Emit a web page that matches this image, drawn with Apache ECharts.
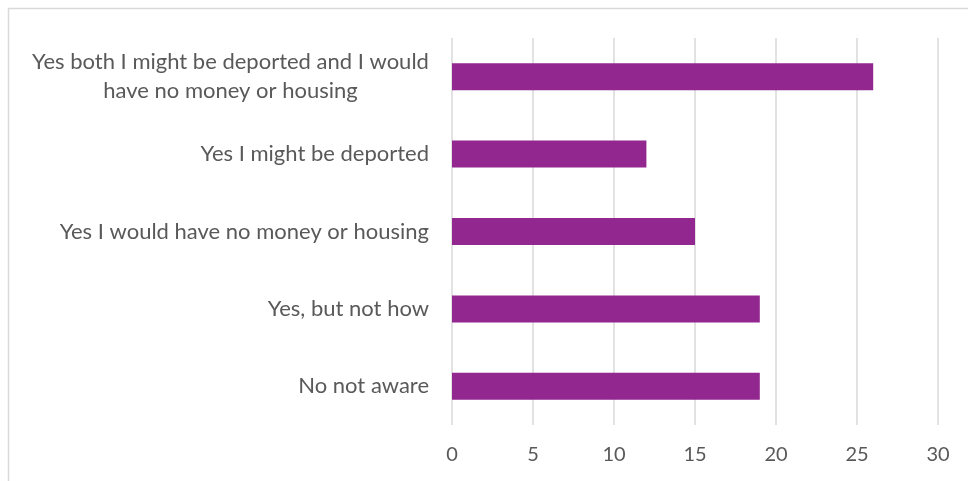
<!DOCTYPE html>
<html>
<head>
<meta charset="utf-8">
<script src="https://cdn.jsdelivr.net/npm/echarts@6/dist/echarts.min.js"></script>
<style>
  html, body { margin: 0; padding: 0; background: #fff; }
  #chart { width: 968px; height: 481px; }
</style>
</head>
<body>
<div id="chart"></div>
<script>
// Survey answers, listed top to bottom
const categories = [
  'Yes both I might be deported and I would\nhave no money or housing',
  'Yes I might be deported',
  'Yes I would have no money or housing',
  'Yes, but not how',
  'No not aware'
];
const counts = [26, 12, 15, 19, 19];
const xTicks = [0, 5, 10, 15, 20, 25, 30];

const textColor = '#595959';
const fontFamily = 'Lato, "Open Sans", sans-serif';
const labelSize = 22;
const tickSize = 20;

// Width of the widest label line, so wrapped labels can be centred as a block
const ctx = document.createElement('canvas').getContext('2d');
ctx.font = labelSize + 'px ' + fontFamily;
let blockWidth = 0;
categories.forEach(function (c) {
  c.split('\n').forEach(function (line) {
    blockWidth = Math.max(blockWidth, Math.ceil(ctx.measureText(line).width));
  });
});

const chart = echarts.init(document.getElementById('chart'), null, { renderer: 'canvas' });
chart.setOption({
  animation: false,
  backgroundColor: '#ffffff',
  graphic: [{
    type: 'polyline',
    shape: { points: [[8.5, 481], [8.5, 8.5], [968, 8.5]] },
    style: { stroke: '#d9d9d9', lineWidth: 1.5, fill: null }
  }],
  grid: { left: 452, right: 30, top: 38, bottom: 56, containLabel: false },
  xAxis: {
    type: 'value',
    min: xTicks[0],
    max: xTicks[xTicks.length - 1],
    interval: 5,
    axisLine: { show: false },
    axisTick: { show: false },
    axisLabel: { color: textColor, fontSize: tickSize, fontFamily: fontFamily, margin: 20 },
    splitLine: { lineStyle: { color: '#d9d9d9', width: 1.5 } }
  },
  yAxis: {
    type: 'category',
    inverse: true,
    data: categories,
    axisLine: { show: false },
    axisTick: { show: false },
    axisLabel: {
      color: textColor, fontSize: labelSize, fontFamily: fontFamily,
      margin: 23, align: 'right', lineHeight: 29,
      formatter: function (value) {
        if (value.indexOf('\n') < 0) return value;
        return value.split('\n').map(function (l) { return '{c|' + l + '}'; }).join('\n');
      },
      rich: {
        c: {
          width: blockWidth, align: 'center', color: textColor,
          fontSize: labelSize, fontFamily: fontFamily, lineHeight: 29
        }
      }
    }
  },
  series: [{
    type: 'bar',
    data: counts,
    barWidth: 27,
    itemStyle: { color: '#92278f' }
  }]
});
</script>
</body>
</html>
